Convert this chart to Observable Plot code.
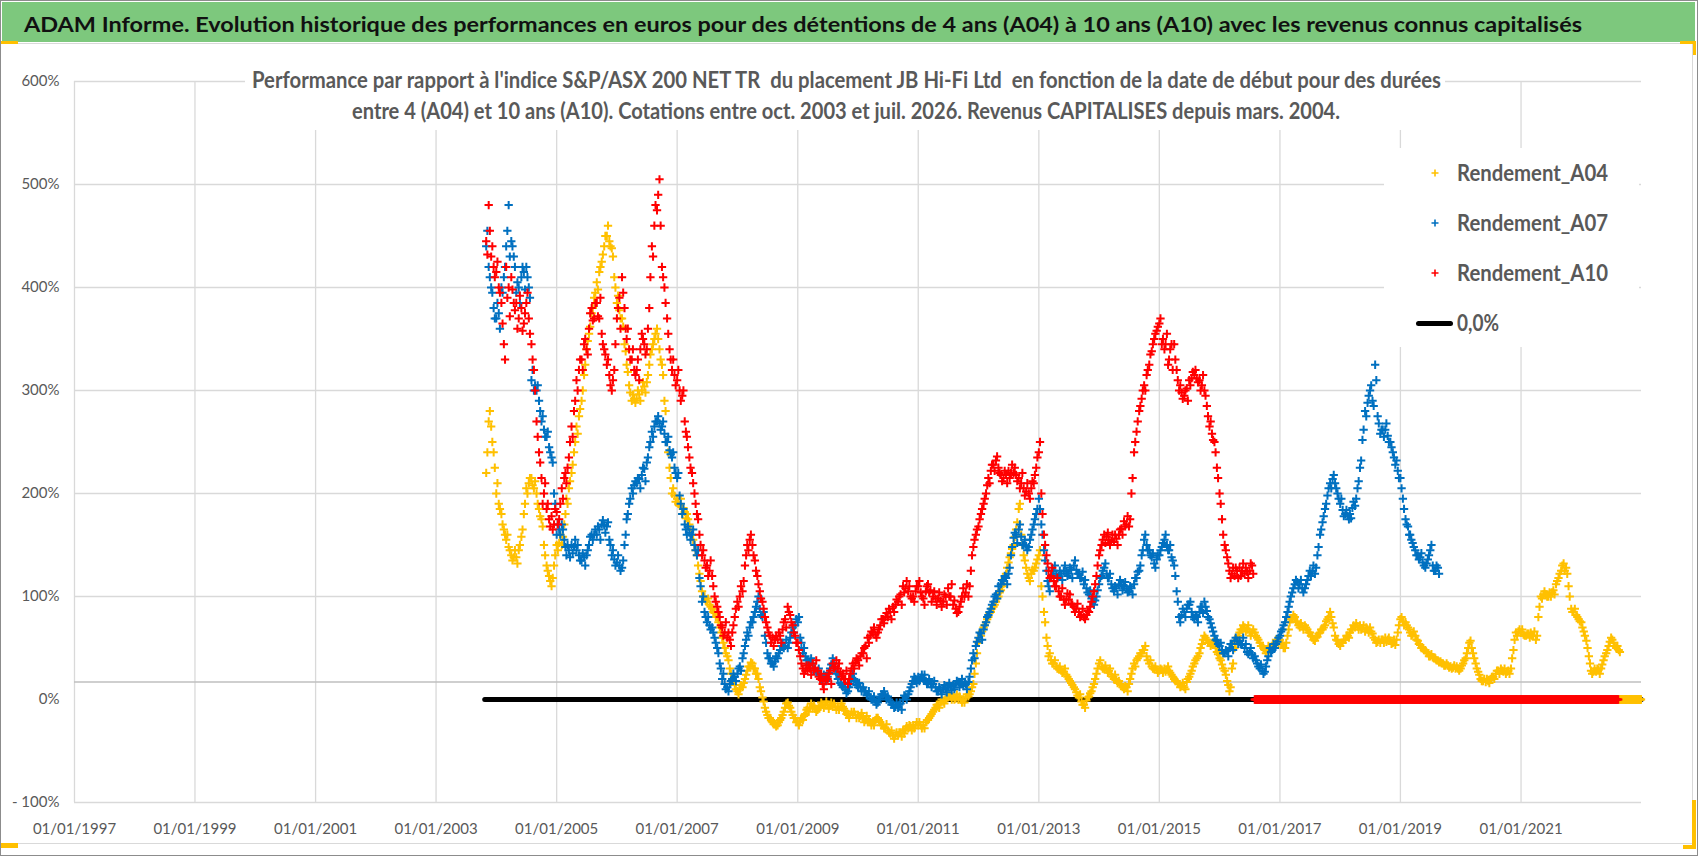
<!DOCTYPE html>
<html><head><meta charset="utf-8">
<script src="https://cdn.jsdelivr.net/npm/d3@7"></script>
<script src="https://cdn.jsdelivr.net/npm/@observablehq/plot@0.6"></script>
<style>
html,body{margin:0;padding:0;background:#fff;}
#wrap{position:relative;width:1698px;height:856px;overflow:hidden;background:#fff;font-family:Lato,"Open Sans",sans-serif;}
.abs{position:absolute;}
.fit{position:absolute;white-space:pre;line-height:1;transform-origin:0 50%;display:inline-block;}
</style></head><body>
<div id="wrap"></div>
<script>
// ---------- DATA ----------
const titleText = "ADAM Informe. Evolution historique des performances en euros pour des détentions de 4 ans (A04) à 10 ans (A10) avec les revenus connus capitalisés";
const subtitleLines = [
  "Performance par rapport à l'indice S&P/ASX 200 NET TR  du placement JB Hi-Fi Ltd  en fonction de la date de début pour des durées",
  "entre 4 (A04) et 10 ans (A10). Cotations entre oct. 2003 et juil. 2026. Revenus CAPITALISES depuis mars. 2004."
];
const seriesNames = ["Rendement_A04", "Rendement_A07", "Rendement_A10"];
const zeroLabel = "0,0%";
const seriesColors = ["#FFC000", "#0070C0", "#FF0000"];

// readings on the 1st and 16th of each month, starting Nov 2003
const a04Values = [
  220,270, 265,240,
  200,190, 180,165, 155,148, 140,138, 138,145, 158,180, 205,210, 215,205, 200,185, 175,150, 130,120, 110,130,
  150,152, 150,170, 195,205, 220,240, 265,275, 290,315, 340,355, 375,390, 405,415, 425,440, 450,445, 438,410,
  385,378, 370,345, 325,305, 290,292, 292,296, 300,304, 308,325, 340,350, 360,340, 325,290, 250,225, 200,198,
  195,188, 180,182, 180,170, 160,150, 140,122, 105,100, 95,92, 88,84, 80,70, 60,50, 42,30, 20,14,
  8,10, 12,20, 28,32, 35,30, 25,12, 2,-8, -15,-18, -22,-24, -25,-20, -15,-8, -3,-8, -15,-18,
  -22,-21, -20,-14, -8,-8, -8,-9, -10,-7, -5,-5, -5,-6, -7,-7, -7,-7, -7,-11, -15,-15, -15,-15,
  -15,-16, -18,-20, -22,-22, -22,-20, -18,-22, -25,-28, -30,-33, -35,-35, -35,-32, -30,-29, -28,-26, -25,-25,
  -25,-25, -25,-22, -20,-16, -12,-8, -5,-3, -2,0, 2,3, 3,1, 0,0, 0,2, 3,8, 15,35,
  55,62, 70,75, 80,85, 90,95, 100,106, 112,122, 133,142, 150,165, 185,160, 140,128, 118,122, 125,132,
  140,110, 85,60, 42,38, 35,32, 30,28, 27,24, 20,16, 12,7, 2,-2, -5,-1, 3,8, 15,25,
  35,32, 30,29, 28,24, 20,19, 18,14, 10,12, 15,25, 35,38, 42,45, 48,42, 35,32, 30,29,
  28,29, 30,29, 28,24, 20,18, 15,13, 12,17, 22,28, 35,40, 45,54, 62,58, 55,54, 53,46,
  40,34, 28,18, 8,30, 50,58, 65,68, 70,68, 66,65, 65,60, 55,52, 48,48, 48,52, 55,57,
  58,54, 50,62, 75,78, 80,75, 70,71, 72,68, 65,61, 57,61, 65,68, 72,78, 85,74, 62,57,
  52,55, 58,62, 65,68, 70,71, 72,69, 66,68, 70,64, 58,56, 55,58, 60,58, 57,55, 53,65,
  78,76, 75,70, 65,63, 62,57, 53,50, 48,45, 42,41, 40,38, 37,35, 33,33, 32,31, 30,30,
  30,35, 40,50, 57,45, 35,27, 20,18, 17,18, 20,22, 25,28, 30,27, 25,28, 30,48, 65,66,
  65,63, 62,64, 65,62, 58,80, 100,102, 102,100, 100,106, 112,118, 125,132, 128,110, 88,85, 82,78,
  75,66, 57,42, 28,27, 27,29, 30,38, 45,52, 60,55, 50,48
];
// readings on the 8th and 23rd of each month (other edge of the band), starting Nov 2003
const a04Extra = [
  240,280, 250,225,
  210,185, 170,160, 160,145, 135,145, 132,150, 165,190, 200,215, 208,212, 190,178, 168,140, 125,115, 118,140,
  145,160, 158,180, 190,212, 228,250, 258,282, 300,325, 348,362, 380,395, 398,420, 432,450, 460,440, 430,400,
  392,370, 362,338, 318,298, 296,288, 300,290, 308,298, 315,335, 345,355, 350,330, 315,280, 240,215, 205,192,
  190,195, 186,176, 175,165, 155,145, 130,115, 100,96, 98,90, 85,80, 75,65, 55,45, 38,25, 18,10,
  5,14, 16,24, 32,36, 30,25, 20,8, -2,-12, -18,-20, -24,-26, -22,-18, -12,-4, -6,-12, -18,-22,
  -25,-18, -16,-10, -12,-4, -6,-12, -8,-3, -8,-2, -9,-3, -4,-10, -10,-4, -9,-14, -18,-12, -12,-18,
  -18,-13, -22,-16, -20,-25, -25,-18, -20,-25, -28,-24, -32,-30, -38,-32, -32,-36, -33,-26, -25,-30, -28,-22,
  -22,-28, -28,-20, -18,-14, -10,-5, -8,0, -4,2, 5,0, 0,5, 3,-3, -3,5, 5,12, 25,45,
  58,66, 72,78, 84,88, 92,98, 104,110, 118,128, 138,146, 158,172, 190,150, 135,122, 115,126, 128,136,
  145,100, 75,52, 45,35, 38,30, 32,26, 30,22, 18,14, 10,4, 5,-5, -8,2, 6,12, 20,30,
  38,30, 33,26, 30,22, 24,16, 15,12, 13,8, 20,30, 32,40, 45,48, 52,38, 38,30, 32,26,
  30,26, 27,32, 26,22, 18,16, 12,16, 10,20, 25,32, 38,42, 50,58, 60,55, 52,56, 50,44,
  38,30, 24,14, 12,35, 55,62, 68,72, 66,72, 62,68, 62,58, 52,50, 45,52, 50,54, 58,54,
  55,50, 55,68, 78,82, 76,72, 74,68, 70,65, 62,58, 60,64, 68,70, 76,80, 80,70, 58,54,
  55,58, 62,60, 68,72, 74,68, 68,72, 70,65, 66,60, 55,58, 58,55, 56,60, 54,58, 58,72,
  80,72, 72,68, 62,66, 58,54, 50,48, 46,42, 44,40, 38,36, 35,33, 35,31, 30,33, 32,28,
  33,38, 45,55, 50,40, 30,24, 18,20, 20,16, 22,20, 28,25, 28,30, 27,25, 40,58, 62,68,
  68,62, 64,60, 62,66, 62,90, 98,105, 100,104, 104,102, 115,122, 130,125, 122,100, 85,88, 80,76,
  70,62, 50,35, 25,30, 30,25, 34,42, 48,56, 58,52, 52,46
];
const a07Values = [
  440,420, 400,380,
  370,375, 400,410, 440,480, 445,430, 395,400, 410,415, 420,400, 310,300, 300,290, 270,262, 255,245, 235,200,
  160,165, 170,155, 140,145, 150,148, 145,140, 135,138, 140,150, 160,160, 160,165, 170,169, 168,155, 140,136,
  133,130, 128,150, 175,190, 205,208, 210,214, 218,224, 230,245, 260,265, 270,268, 265,258, 250,242, 235,225,
  215,198, 180,170, 160,162, 160,150, 140,118, 95,85, 75,72, 70,60, 50,35, 20,15, 12,15, 20,22,
  25,32, 40,52, 65,70, 75,85, 95,88, 80,62, 45,40, 35,37, 40,48, 55,52, 50,60, 70,72,
  75,60, 45,42, 38,36, 35,30, 27,24, 20,21, 22,30, 40,30, 20,16, 12,10, 8,15, 25,18,
  12,12, 12,8, 5,2, 0,-2, -3,2, 5,4, 3,-2, -5,-7, -8,-4, 0,3, 5,12, 18,20,
  22,21, 20,18, 16,15, 15,12, 8,9, 10,11, 12,13, 14,15, 17,15, 13,15, 17,30, 45,52,
  60,64, 68,75, 82,88, 95,102, 110,112, 115,118, 122,140, 157,160, 165,158, 150,149, 148,160, 170,180,
  195,170, 145,125, 110,118, 125,122, 120,122, 125,124, 122,126, 130,126, 122,118, 112,108, 102,98, 92,100,
  112,120, 128,122, 118,112, 105,108, 112,111, 110,108, 105,108, 112,118, 125,140, 155,150, 145,138, 132,136,
  140,148, 155,150, 145,138, 130,105, 80,82, 85,88, 92,85, 78,80, 85,90, 95,86, 78,70, 62,57,
  52,48, 45,47, 50,54, 57,57, 57,53, 50,46, 46,44, 42,35, 30,28, 27,38, 50,48, 50,56,
  62,68, 75,85, 95,104, 112,114, 112,108, 108,116, 125,124, 122,140, 160,172, 185,198, 210,214, 210,200,
  190,184, 180,178, 180,186, 188,205, 225,252, 280,288, 300,290, 325,275, 258,262, 262,256, 250,240, 228,222,
  215,195, 175,168, 160,152, 145,140, 138,133, 128,136, 145,130, 125,128
];
const a07Extra = [
  455,410, 395,370,
  385,360, 395,420, 455,430, 440,420, 405,385, 420,398, 410,390, 320,305, 305,280, 275,255, 260,240, 230,190,
  170,160, 165,148, 150,138, 142,155, 150,135, 142,130, 145,158, 155,165, 168,155, 174,162, 172,150, 145,130,
  140,125, 135,160, 180,195, 200,212, 215,205, 225,212, 235,250, 255,270, 275,262, 270,250, 255,238, 240,220,
  220,190, 185,165, 168,155, 165,145, 145,110, 100,80, 80,68, 65,55, 45,30, 25,10, 8,18, 25,18,
  30,28, 45,58, 62,75, 80,90, 100,82, 85,55, 40,35, 32,42, 45,52, 50,58, 55,65, 65,78,
  80,55, 50,38, 34,40, 30,26, 30,20, 24,18, 26,34, 35,25, 24,14, 16,6, 12,20, 20,14,
  16,8, 8,4, 8,0, 3,-5, 0,5, 8,0, 0,-5, -8,-3, -5,-10, 4,0, 8,15, 22,16,
  18,24, 24,15, 20,12, 18,8, 12,5, 14,7, 16,9, 10,18, 12,20, 17,10, 22,38, 40,56,
  65,58, 72,80, 85,92, 100,98, 105,116, 120,112, 128,148, 162,152, 170,150, 155,145, 155,165, 175,185,
  185,160, 135,115, 105,125, 130,118, 125,116, 130,120, 128,118, 135,122, 118,124, 116,104, 106,95, 96,106,
  118,125, 132,118, 122,108, 110,102, 116,106, 114,104, 110,102, 118,124, 130,145, 160,145, 140,142, 128,140,
  145,152, 160,145, 150,135, 120,95, 75,88, 80,92, 95,80, 82,75, 90,84, 90,80, 74,66, 58,54,
  55,45, 48,42, 54,48, 60,54, 54,60, 54,44, 50,40, 38,32, 34,25, 32,42, 46,54, 54,60,
  66,72, 80,90, 100,108, 116,108, 116,104, 112,120, 120,130, 128,148, 165,178, 190,205, 205,218, 205,195,
  195,178, 184,175, 176,192, 195,212, 232,262, 275,295, 305,285, 310,268, 262,255, 268,250, 245,235, 232,215,
  205,185, 170,160, 155,148, 140,136, 142,130, 132,140, 150,125, 130,122
];
const a10Values = [
  445,480, 430,420,
  415,400, 385,345, 420,400, 410,385, 385,370, 380,365, 385,370, 345,320, 270,240, 215,200, 185,175, 178,170,
  182,175, 205,215, 210,235, 265,280, 310,320, 330,345, 340,360, 380,370, 385,370, 355,340, 325,315, 300,320,
  370,390, 410,380, 350,340, 330,320, 320,310, 355,345, 340,380, 440,460, 475,505, 420,400, 370,340, 320,315,
  310,300, 295,270, 255,235, 220,200, 180,160, 140,135, 130,125, 120,100, 90,80, 70,65, 60,58, 65,80,
  95,100, 105,130, 150,155, 150,135, 120,105, 95,80, 70,62, 60,58, 58,62, 68,78, 90,82, 72,62,
  55,42, 30,28, 28,30, 35,30, 28,20, 15,18, 20,28, 35,32, 30,27, 25,20, 15,25, 35,36,
  38,42, 45,52, 60,62, 65,63, 65,72, 78,80, 80,85, 90,92, 95,102, 110,108, 105,100, 100,105,
  110,104, 98,105, 112,106, 100,98, 98,96, 95,100, 108,100, 92,88, 85,95, 108,104, 100,125, 148,160,
  168,180, 190,200, 215,222, 228,232, 225,218, 215,218, 222,220, 220,218, 215,210, 205,202, 200,205, 210,225,
  240,200, 160,140, 125,120, 115,110, 105,100, 97,97, 97,93, 90,88, 85,82, 80,82, 85,95, 105,120,
  140,150, 160,158, 155,154, 153,156, 160,166, 173,170, 168,200, 240,260, 280,292, 305,315, 325,338, 350,358,
  365,345, 340,355, 330,345, 345,320, 300,298, 295,302, 310,312, 315,312, 310,305, 300,285, 265,258, 250,225,
  200,175, 150,138, 125,122, 120,125, 128,125, 122,124, 125,130
];
const a10Extra = [
  432,455, 440,410,
  425,395, 365,330, 390,372, 398,378, 360,392, 358,375, 395,355, 330,300, 255,230, 190,210, 190,168, 165,185,
  170,190, 195,220, 225,250, 255,290, 300,330, 320,350, 335,375, 368,385, 372,390, 345,335, 330,305, 310,345,
  380,360, 395,360, 360,330, 340,315, 330,340, 350,335, 360,410, 430,480, 490,460, 410,385, 355,330, 330,305,
  320,290, 300,260, 245,225, 210,190, 175,150, 145,128, 120,135, 110,95, 85,72, 62,75, 65,52, 72,88,
  90,110, 115,140, 145,160, 140,125, 112,98, 88,75, 65,55, 52,62, 65,55, 75,70, 85,75, 65,55,
  48,35, 25,33, 33,24, 28,38, 22,25, 10,22, 25,15, 30,38, 35,22, 20,28, 20,30, 30,40,
  33,45, 50,40, 55,66, 70,60, 68,78, 74,84, 88,78, 85,97, 100,92, 104,115, 110,98, 95,110,
  115,100, 92,110, 104,95, 105,92, 104,90, 102,92, 100,112, 96,84, 90,100, 100,112, 110,140, 155,165,
  175,185, 195,208, 210,228, 222,236, 220,212, 222,210, 215,228, 225,212, 205,220, 198,210, 195,212, 218,235,
  250,180, 150,132, 118,128, 110,118, 100,108, 92,103, 102,92, 85,93, 80,88, 78,86, 90,100, 112,130,
  145,155, 152,162, 150,160, 160,150, 165,160, 168,178, 175,215, 250,270, 285,300, 300,320, 335,345, 355,362,
  370,350, 345,325, 340,320, 330,310, 305,292, 300,290, 305,318, 320,308, 300,315, 295,275, 270,252, 240,215,
  190,160, 145,132, 118,128, 128,118, 120,132, 128,118, 132,122
];
const seriesStart = [2003, 11];
const mainDays = [1, 16];
const extraDays = [8, 23];
// zero values plotted after the end of each series
const zeroValue = 0;
const a10ZeroRange = ["2016-08-01", "2022-08-15"];
const a04ZeroRange = ["2022-08-15", "2022-12-31"];
const zeroLineRange = ["2003-10-23", "2022-12-31"];

const xDomain = ["1997-01-01", "2023-01-01"];
const xTickYears = [1997, 1999, 2001, 2003, 2005, 2007, 2009, 2011, 2013, 2015, 2017, 2019, 2021];
const yTicks = [-100, 0, 100, 200, 300, 400, 500, 600];
const yGrid = [-100, 100, 200, 300, 400, 500, 600];
const axisCross = 17;

// ---------- BUILD ----------
const toDate = s => new Date(s + "T00:00:00Z");
function pairs([y, m], vals, days) {
  return vals.map((v, i) => ({date: new Date(Date.UTC(y, m - 1 + Math.floor(i / 2), days[i % 2])), v}));
}
const d04 = pairs(seriesStart, a04Values, mainDays).concat(pairs(seriesStart, a04Extra, extraDays));
const d07 = pairs(seriesStart, a07Values, mainDays).concat(pairs(seriesStart, a07Extra, extraDays));
const d10 = pairs(seriesStart, a10Values, mainDays).concat(pairs(seriesStart, a10Extra, extraDays));
const z10 = d3.utcDay.every(4).range(toDate(a10ZeroRange[0]), toDate(a10ZeroRange[1])).map(date => ({date, v: zeroValue}));
const z04 = d3.utcDay.every(4).range(toDate(a04ZeroRange[0]), toDate(a04ZeroRange[1])).map(date => ({date, v: zeroValue}));
const zeroLine = zeroLineRange.map(s => ({date: toDate(s), v: zeroValue}));
const xTicks = xTickYears.map(y => new Date(Date.UTC(y, 0, 1)));

const dotOpts = c => ({x: "date", y: "v", symbol: "plus", r: 2.8, stroke: c, strokeWidth: 2});

const chart = Plot.plot({
  width: 1698, height: 810,
  marginTop: 35, marginBottom: 54, marginLeft: 74, marginRight: 57,
  x: {type: "utc", domain: xDomain.map(toDate)},
  y: {domain: [-100, 600]},
  style: {background: "transparent", fontFamily: "Lato, 'Open Sans', sans-serif", fontSize: "15px", color: "#595959", overflow: "visible"},
  marks: [
    Plot.gridX(xTicks, {stroke: "#d9d9d9", strokeOpacity: 1, strokeWidth: 1.3}),
    Plot.gridY(yGrid, {stroke: "#d9d9d9", strokeOpacity: 1, strokeWidth: 1.3}),
    Plot.ruleY([axisCross], {stroke: "#bfbfbf", strokeWidth: 1.6}),
    Plot.axisY(yTicks, {tickSize: 0, tickPadding: 15, label: null, fontSize: 15,
      tickFormat: d => d < 0 ? "- " + Math.abs(d) + "%" : d + "%"}),
    Plot.axisX(xTicks, {tickSize: 0, tickPadding: 21, label: null, fontSize: 15,
      tickFormat: d3.utcFormat("%d/%m/%Y")}),
    Plot.line(zeroLine, {x: "date", y: "v", stroke: "#000", strokeWidth: 5, strokeLinecap: "round"}),
    Plot.dot(d04, dotOpts(seriesColors[0])),
    Plot.dot(d07, dotOpts(seriesColors[1])),
    Plot.dot(d10, dotOpts(seriesColors[2])),
    Plot.dot(z04, dotOpts(seriesColors[0])),
    Plot.dot(z10, dotOpts(seriesColors[2]))
  ]
});

// ---------- LAYOUT ----------
const wrap = document.getElementById("wrap");
function box(left, top, w, h, bg, extra) {
  const d = document.createElement("div");
  d.className = "abs";
  Object.assign(d.style, {left: left + "px", top: top + "px", width: w + "px", height: h + "px", background: bg}, extra || {});
  wrap.appendChild(d);
  return d;
}
const fits = [];
function text(str, left, cy, w, fs, weight, color) {
  const s = document.createElement("span");
  s.className = "fit";
  s.textContent = str;
  Object.assign(s.style, {left: left + "px", top: (cy - 0.53 * fs) + "px", fontSize: fs + "px", fontWeight: weight, color});
  wrap.appendChild(s);
  fits.push([s, w]);
  return s;
}

// title band
box(2, 2, 1693, 40, "#7dc87d");
text(titleText, 24, 24, 1558, 21, 700, "#111");
box(2, 43, 1691, 1, "#d9d9d9");

// chart
const holder = box(0, 46, 1698, 810, "transparent");
holder.appendChild(chart);

// subtitle
box(245, 60, 1200, 70, "#fff");
text(subtitleLines[0], 252, 81, 1189, 22, 700, "#595959");
text(subtitleLines[1], 352, 112, 988, 22, 700, "#595959");

// legend
box(1384, 148, 255, 199, "#fff");
const legendY = [173, 223, 273];
seriesNames.forEach((n, i) => {
  const svgNS = "http://www.w3.org/2000/svg";
  const sv = document.createElementNS(svgNS, "svg");
  sv.setAttribute("width", 8); sv.setAttribute("height", 8);
  sv.style.position = "absolute"; sv.style.left = "1431px"; sv.style.top = (legendY[i] - 4) + "px";
  const p = document.createElementNS(svgNS, "path");
  p.setAttribute("d", "M0.5,4H7.5M4,0.5V7.5");
  p.setAttribute("stroke", seriesColors[i]); p.setAttribute("stroke-width", "1.6"); p.setAttribute("fill", "none");
  sv.appendChild(p); wrap.appendChild(sv);
  text(n, 1457, legendY[i], 151, 23, 700, "#595959");
});
box(1416, 321, 37, 5, "#000", {borderRadius: "2.5px"});
text(zeroLabel, 1457, 323, 42, 23, 700, "#595959");

// chart-area borders and handles
box(1692, 44, 1, 799, "#d9d9d9");
box(2, 843, 1691, 1, "#d9d9d9");
box(0, 0, 1698, 856, "transparent", {boxSizing: "border-box", border: "1px solid #8c8c8c"});
const handle = "#FFC000";
box(1, 41, 17, 3, handle);
box(1680, 41, 16, 3, handle);
box(1693, 41, 3, 14, handle);
box(1, 843, 17, 5, handle);
box(1692, 800, 4, 49, handle);
box(1683, 845, 13, 4, handle);

function doFit() {
  fits.forEach(([el, w]) => {
    el.style.transform = "none";
    const nw = el.getBoundingClientRect().width;
    if (nw > 0) el.style.transform = `scaleX(${w / nw})`;
  });
}
doFit();
if (document.fonts && document.fonts.ready) document.fonts.ready.then(doFit);
</script>
</body></html>
